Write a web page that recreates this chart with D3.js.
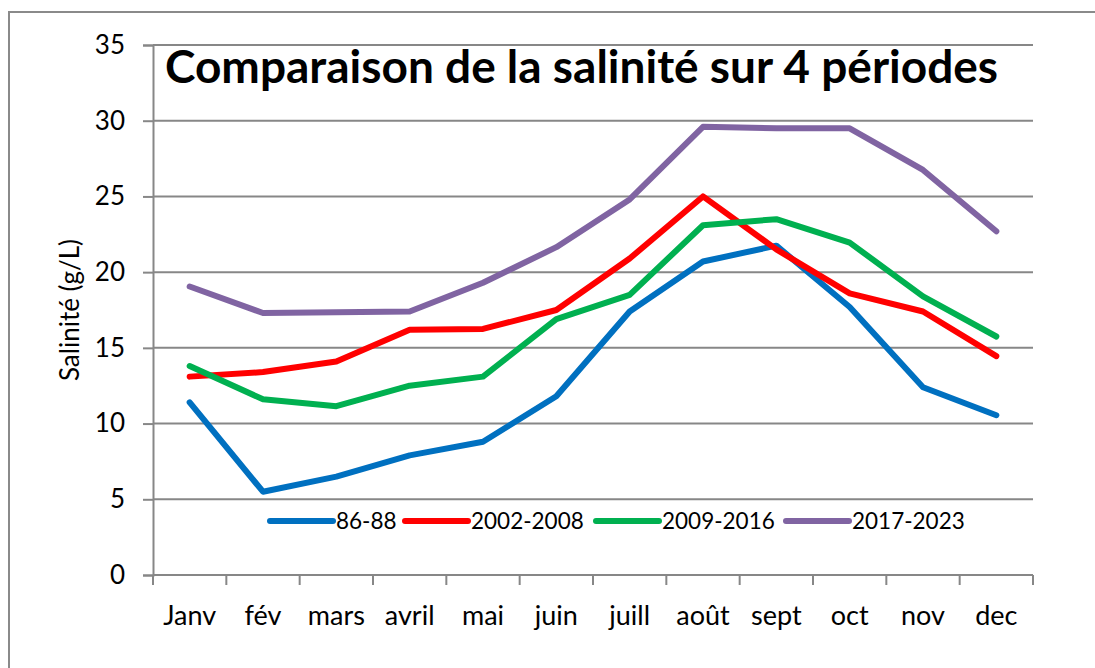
<!DOCTYPE html>
<html>
<head>
<meta charset="utf-8">
<script src="https://cdn.jsdelivr.net/npm/d3@7"></script>
<style>
  body { margin: 0; background: #fff; }
  text { font-family: Lato, "Open Sans", sans-serif; fill: #000; }
</style>
</head>
<body>
<div id="chart"></div>
<script>
const months = ["Janv", "fév", "mars", "avril", "mai", "juin", "juill", "août", "sept", "oct", "nov", "dec"];
const seriesNames = ["86-88", "2002-2008", "2009-2016", "2017-2023"];
const seriesColors = ["#0070C0", "#FF0000", "#00B050", "#8064A2"];
const s8688 = [11.4, 5.5, 6.5, 7.9, 8.8, 11.8, 17.4, 20.7, 21.75, 17.7, 12.4, 10.55];
const s0208 = [13.1, 13.4, 14.1, 16.2, 16.25, 17.5, 20.9, 25.0, 21.5, 18.6, 17.4, 14.45];
const s0916 = [13.8, 11.6, 11.15, 12.5, 13.1, 16.9, 18.5, 23.1, 23.5, 21.95, 18.4, 15.75];
const s1723 = [19.05, 17.3, 17.35, 17.4, 19.3, 21.65, 24.8, 29.6, 29.5, 29.5, 26.75, 22.7];
const yTicks = [0, 5, 10, 15, 20, 25, 30, 35];

const allSeries = [s8688, s0208, s0916, s1723];

const W = 1095, H = 668;
const margin = {top: 45, right: 62, bottom: 93, left: 153};
const width = W - margin.left - margin.right,
      height = H - margin.top - margin.bottom;

const svg = d3.select("#chart").append("svg")
  .attr("width", W).attr("height", H);

// outer frame (only left and top edges visible)
svg.append("rect")
  .attr("x", 9).attr("y", 12)
  .attr("width", 1200).attr("height", 1000)
  .attr("fill", "none").attr("stroke", "#8a8a8a").attr("stroke-width", 2);

const g = svg.append("g").attr("transform", `translate(${margin.left},${margin.top})`);

const x = d3.scaleBand().domain(months).range([0, width]);
const y = d3.scaleLinear().domain([0, 35]).range([height, 0]);

// gridlines
g.selectAll(".grid").data(yTicks.filter(d => d > 0)).enter().append("line")
  .attr("x1", 0).attr("x2", width)
  .attr("y1", d => y(d)).attr("y2", d => y(d))
  .attr("stroke", "#878787").attr("stroke-width", 2);

// y axis
const yAxis = g.append("g")
  .call(d3.axisLeft(y).tickValues(yTicks).tickSize(10).tickPadding(18));
yAxis.select(".domain").attr("stroke", "#878787").attr("stroke-width", 2);
yAxis.selectAll(".tick line").attr("stroke", "#878787").attr("stroke-width", 2);
yAxis.selectAll(".tick text").attr("font-size", 26).attr("fill", "#1a1a1a").attr("font-family", "Lato");

// x axis: ticks at band boundaries
const xAxisG = g.append("g").attr("transform", `translate(0,${height})`);
xAxisG.append("line").attr("x1", 0).attr("x2", width)
  .attr("stroke", "#878787").attr("stroke-width", 2);
const bounds = d3.range(months.length + 1).map(i => i * x.bandwidth());
xAxisG.selectAll(".xt").data(bounds).enter().append("line")
  .attr("x1", d => d).attr("x2", d => d)
  .attr("y1", 0).attr("y2", 10)
  .attr("stroke", "#878787").attr("stroke-width", 2);
xAxisG.selectAll(".xl").data(months).enter().append("text")
  .attr("x", d => x(d) + x.bandwidth() / 2)
  .attr("y", 50)
  .attr("text-anchor", "middle")
  .attr("font-size", 27).attr("fill", "#1a1a1a")
  .text(d => d);

// y title
svg.append("text")
  .attr("transform", "translate(79,310) rotate(-90)")
  .attr("text-anchor", "middle")
  .attr("font-size", 26)
  .text("Salinité (g/L)");

// lines
const line = d3.line()
  .x((d, i) => x(months[i]) + x.bandwidth() / 2)
  .y(d => y(d));

g.selectAll(".series").data(allSeries).enter().append("path")
  .attr("d", d => line(d))
  .attr("fill", "none")
  .attr("stroke", (d, i) => seriesColors[i])
  .attr("stroke-width", 6)
  .attr("stroke-linejoin", "round")
  .attr("stroke-linecap", "round");

// title
svg.append("text")
  .attr("x", 165).attr("y", 83)
  .attr("font-size", 46).attr("font-weight", "bold")
  .text("Comparaison de la salinité sur 4 périodes");

// legend
const legX = [270, 405, 596, 786];
const leg = svg.append("g");
seriesNames.forEach((name, i) => {
  leg.append("line")
    .attr("x1", legX[i]).attr("x2", legX[i] + 63)
    .attr("y1", 521).attr("y2", 521)
    .attr("stroke", seriesColors[i]).attr("stroke-width", 6)
    .attr("stroke-linecap", "round");
  leg.append("text")
    .attr("x", legX[i] + 66).attr("y", 529)
    .attr("font-size", 22.5).attr("fill", "#1a1a1a")
    .text(name);
});
</script>
</body>
</html>
